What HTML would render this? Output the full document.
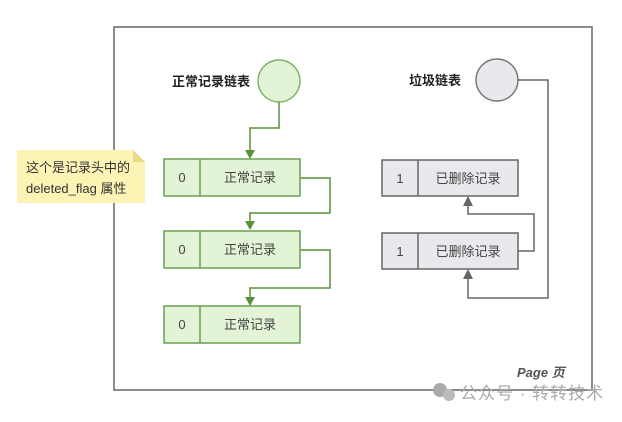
<!DOCTYPE html>
<html><head><meta charset="utf-8"><style>
body{margin:0;background:#fff;width:622px;height:417px;overflow:hidden;font-family:"Liberation Sans","Noto Sans CJK SC",sans-serif}
</style></head><body>
<svg width="622" height="417" xmlns="http://www.w3.org/2000/svg" font-family="Liberation Sans, Noto Sans CJK SC, sans-serif">
<rect x="114" y="27" width="478" height="363" fill="#fff" stroke="#666" stroke-width="1.5"/>
<path d="M17,150 H133 L145,162 V203 H17 Z" fill="#fdf3b5"/>
<path d="M133,150 L145,162 H133 Z" fill="#e8d98a"/>
<text x="26" y="172" font-size="13" fill="#333">这个是记录头中的</text>
<text x="26" y="193" font-size="13" fill="#333">deleted_flag 属性</text>
<text x="172" y="86" font-size="13" font-weight="bold" fill="#222">正常记录链表</text>
<circle cx="279" cy="81" r="21" fill="#e2f3d6" stroke="#7eb36a" stroke-width="1.5"/>
<g fill="none" stroke="#5a8f3c" stroke-width="1.5">
<path d="M279,102 V128 H250 V152"/>
<path d="M300,178 H330 V213 H250 V223"/>
<path d="M300,250 H330 V288 H250 V299"/>
</g>
<g fill="#5a8f3c">
<path d="M245,150 H255 L250,159 Z"/>
<path d="M245,221 H255 L250,230 Z"/>
<path d="M245,297 H255 L250,306 Z"/>
</g>
<g stroke="#6aa150" stroke-width="1.5" fill="#e2f3d6">
<rect x="164" y="159" width="136" height="37"/><line x1="200" y1="159" x2="200" y2="196"/>
<rect x="164" y="231" width="136" height="37"/><line x1="200" y1="231" x2="200" y2="268"/>
<rect x="164" y="306" width="136" height="37"/><line x1="200" y1="306" x2="200" y2="343"/>
</g>
<g font-size="13" fill="#444" text-anchor="middle">
<text x="182" y="182">0</text><text x="250" y="182">正常记录</text>
<text x="182" y="254">0</text><text x="250" y="254">正常记录</text>
<text x="182" y="329">0</text><text x="250" y="329">正常记录</text>
</g>
<text x="409" y="85" font-size="13" font-weight="bold" fill="#222">垃圾链表</text>
<circle cx="497" cy="80" r="21" fill="#e8e9ec" stroke="#777" stroke-width="1.5"/>
<g fill="none" stroke="#666" stroke-width="1.5">
<path d="M518,80 H548 V298 H468 V278"/>
<path d="M518,251 H534 V214 H468 V205"/>
</g>
<g fill="#666">
<path d="M463,206 H473 L468,196 Z"/>
<path d="M463,279 H473 L468,269 Z"/>
</g>
<g stroke="#666" stroke-width="1.5" fill="#e8e9ec">
<rect x="382" y="160" width="136" height="36"/><line x1="418" y1="160" x2="418" y2="196"/>
<rect x="382" y="233" width="136" height="36"/><line x1="418" y1="233" x2="418" y2="269"/>
</g>
<g font-size="13" fill="#444" text-anchor="middle">
<text x="400" y="183">1</text><text x="468" y="183">已删除记录</text>
<text x="400" y="256">1</text><text x="468" y="256">已删除记录</text>
</g>
<text x="517" y="377" font-size="13" font-weight="bold" font-style="italic" fill="#555">Page 页</text>
<circle cx="440" cy="390" r="7" fill="#aaa"/><circle cx="449" cy="395" r="6" fill="#bbb"/>
<text x="460" y="399" font-size="17" letter-spacing="1" fill="#aaa">公众号 · 转转技术</text>
</svg>
</body></html>
